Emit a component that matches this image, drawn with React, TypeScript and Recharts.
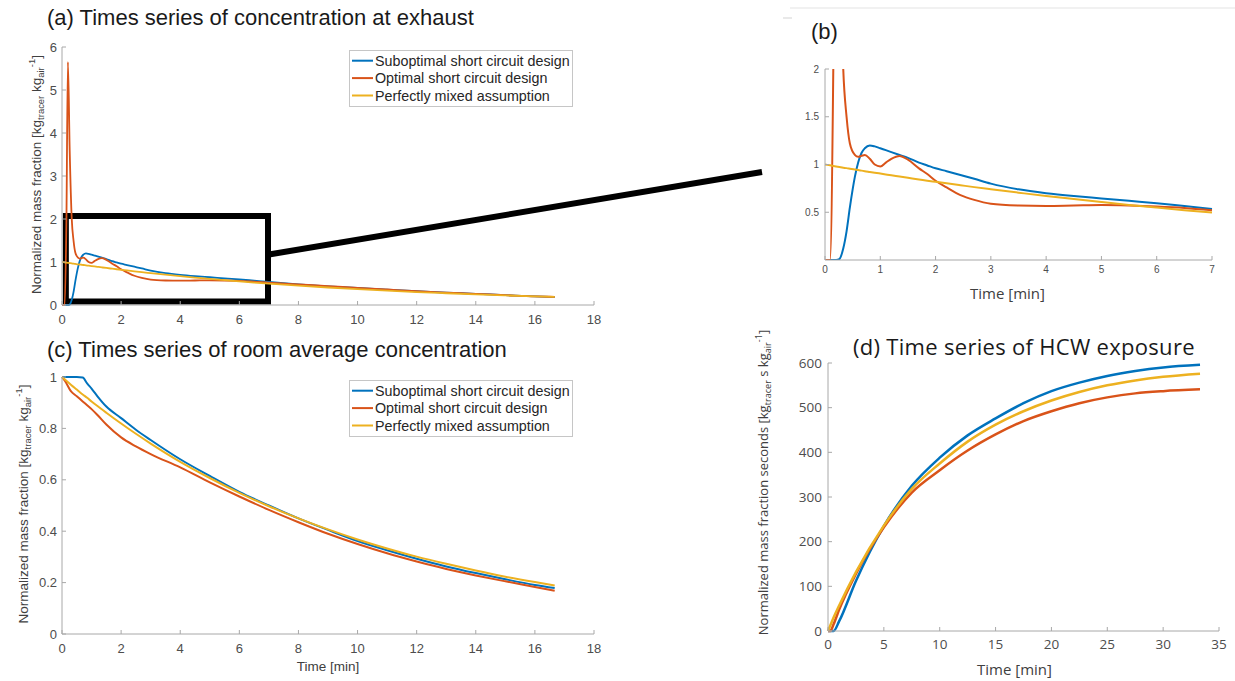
import { LineChart, Line, XAxis, YAxis, ReferenceArea } from "recharts";

const FONT = "'Liberation Sans', Arial, Helvetica, sans-serif";
const FONT_D = "'Open Sans', 'Noto Sans', sans-serif";
const AXIS = "#a8a8a8";
const TICK_TEXT = "#4d4d4d";

const seriesKeys = ["suboptimal", "optimal", "mixed"];
const seriesNames = ["Suboptimal short circuit design", "Optimal short circuit design", "Perfectly mixed assumption"];
const seriesColors = ["#0072BD", "#D95319", "#EDB120"];

// concentration at exhaust, panels (a) and (b)
const exhaustTime = [0, 0.09, 0.15, 0.2, 0.26, 0.33, 0.39, 0.45, 0.54, 0.6, 0.66, 0.72, 0.81, 0.9, 1.0, 1.1, 1.2, 1.35, 1.5, 1.7, 1.85, 2.0, 2.2, 2.45, 2.7, 3.0, 3.5, 4.0, 4.5, 5.0, 5.5, 6.0, 6.5, 7.0, 8, 9, 10, 11, 12, 13, 14, 15, 16, 16.67];
const exhaustSuboptimal = [0, 0, 0, 0, 0.01, 0.12, 0.3, 0.55, 0.87, 1.02, 1.12, 1.17, 1.2, 1.19, 1.17, 1.15, 1.13, 1.1, 1.07, 1.02, 0.99, 0.96, 0.93, 0.89, 0.85, 0.8, 0.74, 0.7, 0.67, 0.645, 0.62, 0.595, 0.565, 0.535, 0.48, 0.435, 0.395, 0.355, 0.32, 0.29, 0.26, 0.23, 0.2, 0.185];
const exhaustOptimal = [0, 0, 2.0, 5.65, 3.6, 2.0, 1.5, 1.22, 1.1, 1.08, 1.09, 1.1, 1.06, 1.0, 0.98, 1.02, 1.06, 1.09, 1.05, 0.96, 0.9, 0.83, 0.76, 0.68, 0.63, 0.59, 0.57, 0.565, 0.57, 0.575, 0.57, 0.56, 0.545, 0.52, 0.48, 0.44, 0.4, 0.36, 0.32, 0.29, 0.26, 0.23, 0.2, 0.19];
const exhaustMixed = [1, 0.991, 0.985, 0.98, 0.974, 0.967, 0.962, 0.956, 0.947, 0.942, 0.936, 0.93, 0.922, 0.914, 0.905, 0.896, 0.887, 0.874, 0.861, 0.844, 0.831, 0.819, 0.803, 0.783, 0.763, 0.741, 0.705, 0.67, 0.638, 0.607, 0.577, 0.549, 0.522, 0.497, 0.45, 0.407, 0.368, 0.333, 0.301, 0.273, 0.247, 0.223, 0.202, 0.189];

// room average concentration, panel (c)
const roomTime = [0, 0.1, 0.3, 0.5, 0.7, 0.85, 1.0, 1.2, 1.5, 2, 2.5, 3, 4, 5, 6, 7, 8, 9, 10, 11, 12, 13, 14, 15, 16, 16.67];
const roomSuboptimal = [1, 1, 1, 1, 0.998, 0.975, 0.955, 0.925, 0.885, 0.84, 0.795, 0.755, 0.68, 0.615, 0.553, 0.5, 0.45, 0.405, 0.362, 0.326, 0.293, 0.263, 0.237, 0.213, 0.191, 0.179];
const roomOptimal = [1, 0.985, 0.945, 0.925, 0.905, 0.89, 0.875, 0.852, 0.815, 0.765, 0.73, 0.7, 0.648, 0.59, 0.535, 0.483, 0.435, 0.39, 0.35, 0.314, 0.282, 0.253, 0.228, 0.205, 0.183, 0.168];
const roomMixed = [1, 0.99, 0.97, 0.951, 0.932, 0.919, 0.905, 0.887, 0.861, 0.819, 0.779, 0.741, 0.67, 0.607, 0.549, 0.497, 0.45, 0.407, 0.368, 0.333, 0.301, 0.273, 0.247, 0.223, 0.202, 0.189];

// HCW exposure, panel (d)
const hcwTime = [0, 0.2, 0.5, 1, 2.5, 5, 7.5, 10, 12.5, 15, 17.5, 20, 22.5, 25, 27.5, 30, 33.3];
const hcwSuboptimal = [0, 0, 0, 22, 112, 235, 325, 388, 438, 476, 510, 537, 556, 571, 582, 590, 596];
const hcwOptimal = [0, 0, 15, 48, 128, 232, 310, 360, 404, 440, 470, 492, 510, 523, 532, 537, 541];
const hcwMixed = [0, 12, 30, 57, 132, 236, 318, 375, 424, 462, 492, 516, 535, 550, 561, 569, 576];

const ticks18 = [0, 2, 4, 6, 8, 10, 12, 14, 16, 18];
const ticks7 = [0, 1, 2, 3, 4, 5, 6, 7];
const ticks35 = [0, 5, 10, 15, 20, 25, 30, 35];
const exhaustTicks = [0, 1, 2, 3, 4, 5, 6];
const zoomTicks = [0.5, 1, 1.5, 2];
const roomTicks = [0, 0.2, 0.4, 0.6, 0.8, 1];
const hcwTicks = [0, 100, 200, 300, 400, 500, 600];

const table = (t: number[], a: number[], b: number[], c: number[]) =>
  t.map((v, i) => ({ t: v, suboptimal: a[i], optimal: b[i], mixed: c[i] }));

const exhaustData = table(exhaustTime, exhaustSuboptimal, exhaustOptimal, exhaustMixed);
const zoomData = exhaustData.filter((d) => d.t <= 7);
const roomData = table(roomTime, roomSuboptimal, roomOptimal, roomMixed);
const hcwData = table(hcwTime, hcwSuboptimal, hcwOptimal, hcwMixed);

function MassLabel(props: any) {
  const { viewBox, dx = 19, shift = 0, size = 13.5, family = FONT, seconds = false } = props;
  const vb = viewBox || { x: 0, y: 0, width: 0, height: 0 };
  const cx = vb.x + dx;
  const cy = vb.y + vb.height / 2 + shift;
  const small = size * 0.7;
  return (
    <text x={cx} y={cy} transform={`rotate(-90 ${cx} ${cy})`} textAnchor="middle" fontSize={size} fontFamily={family} fill="#404040">
      <tspan>{seconds ? "Normalized mass fraction seconds [kg" : "Normalized mass fraction [kg"}</tspan>
      <tspan fontSize={small} dy={3}>tracer</tspan>
      <tspan dy={-3}>{seconds ? " s kg" : " kg"}</tspan>
      <tspan fontSize={small} dy={3}>air</tspan>
      <tspan fontSize={small} dy={-9}>-1</tspan>
      <tspan dy={6}>]</tspan>
    </text>
  );
}

function TimeLabel(props: any) {
  const { viewBox, dy = 37, dx = 0, size = 13.5, family = FONT } = props;
  const vb = viewBox || { x: 0, y: 0, width: 0, height: 0 };
  return (
    <text x={vb.x + vb.width / 2 + dx} y={vb.y + dy} textAnchor="middle" fontSize={size} fontFamily={family} fill="#404040">
      Time [min]
    </text>
  );
}

function seriesLines(width: number) {
  return seriesKeys.map((k, i) => (
    <Line
      key={k}
      type="monotone"
      dataKey={k}
      name={seriesNames[i]}
      stroke={seriesColors[i]}
      strokeWidth={width}
      dot={false}
      activeDot={false}
      isAnimationActive={false}
    />
  ));
}

function LegendBox({ x, y }: { x: number; y: number }) {
  return (
    <g>
      <rect x={x + 0.5} y={y + 0.5} width={223} height={56} fill="#fff" stroke="#c6c6c6" />
      {seriesNames.map((name, i) => {
        const cy = y + 10.7 + i * 17.4;
        return (
          <g key={name}>
            <line x1={x + 3} x2={x + 24} y1={cy} y2={cy} stroke={seriesColors[i]} strokeWidth={2} />
            <text x={x + 26} y={cy + 5} fontSize={14.3} fontFamily={FONT} fill="#262626">
              {name}
            </text>
          </g>
        );
      })}
    </g>
  );
}

const axisProps = {
  axisLine: { stroke: AXIS },
  tickLine: { stroke: AXIS },
  tickSize: -4,
  interval: 0 as const,
};

export default function App() {
  const tickA = { fontSize: 13, fill: TICK_TEXT, fontFamily: FONT };
  const tickB = { fontSize: 10, fill: TICK_TEXT, fontFamily: FONT };
  const tickD = { fontSize: 13.5, fill: TICK_TEXT, fontFamily: FONT_D };
  return (
    <div style={{ position: "absolute", left: 0, top: 0, width: 1235, height: 681, background: "#fff", overflow: "hidden" }}>
      {/* (a) exhaust */}
      <div style={{ position: "absolute", left: 0, top: 0 }}>
        <LineChart width={620} height={340} data={exhaustData} margin={{ top: 47, right: 26, bottom: 5, left: 22 }}>
          <XAxis type="number" dataKey="t" domain={[0, 18]} ticks={ticks18} height={30} tickMargin={14} tick={tickA} {...axisProps} />
          <YAxis type="number" domain={[0, 6]} ticks={exhaustTicks} width={40} tickMargin={9} tick={tickA} {...axisProps} label={<MassLabel dx={19} shift={-1.5} />} />
          {seriesLines(1.8)}
          <ReferenceArea x1={0.13} x2={6.97} y1={0.08} y2={2.07} fill="none" stroke="#000" strokeWidth={6} />
        </LineChart>
      </div>

      {/* (b) zoom */}
      <div style={{ position: "absolute", left: 760, top: 40 }}>
        <LineChart width={475} height={270} data={zoomData} margin={{ top: 29, right: 23, bottom: 5, left: 35 }}>
          <XAxis type="number" dataKey="t" domain={[0, 7]} ticks={ticks7} height={45} tickMargin={10} tick={tickB} {...axisProps} label={<TimeLabel dy={39} dx={-11} size={15} family={FONT_D} />} />
          <YAxis type="number" domain={[0, 2]} ticks={zoomTicks} allowDataOverflow width={30} tickMargin={10} tick={tickB} {...axisProps} />
          {seriesLines(2)}
        </LineChart>
      </div>

      {/* (c) room average */}
      <div style={{ position: "absolute", left: 0, top: 340 }}>
        <LineChart width={620} height={341} data={roomData} margin={{ top: 37, right: 26, bottom: 5, left: 22 }}>
          <XAxis type="number" dataKey="t" domain={[0, 18]} ticks={ticks18} height={42} tickMargin={14} tick={tickA} {...axisProps} label={<TimeLabel dy={37} />} />
          <YAxis type="number" domain={[0, 1]} ticks={roomTicks} width={40} tickMargin={9} tick={tickA} {...axisProps} label={<MassLabel dx={6} shift={-1.5} />} />
          {seriesLines(2)}
        </LineChart>
      </div>

      {/* (d) HCW exposure */}
      <div style={{ position: "absolute", left: 740, top: 330 }}>
        <LineChart width={495} height={351} data={hcwData} margin={{ top: 33, right: 16, bottom: 5, left: 48 }}>
          <XAxis type="number" dataKey="t" domain={[0, 35]} ticks={ticks35} height={45} tickMargin={12} tick={tickD} {...axisProps} label={<TimeLabel dy={44} dx={-9} size={15} family={FONT_D} />} />
          <YAxis type="number" domain={[0, 600]} ticks={hcwTicks} width={40} tickMargin={10} tick={tickD} {...axisProps} label={<MassLabel dx={-20} shift={-14.5} size={13} family={FONT_D} seconds />} />
          {seriesLines(2.5)}
        </LineChart>
      </div>

      <svg width={1235} height={681} style={{ position: "absolute", left: 0, top: 0, pointerEvents: "none" }}>
        <line x1={790} x2={1235} y1={8} y2={8} stroke="#ececec" strokeWidth={1.5} />
        <line x1={783} x2={792} y1={18} y2={18} stroke="#e2e2e2" strokeWidth={1.5} />
        <line x1={266} y1={255} x2={762} y2={172} stroke="#000" strokeWidth={6} />
        <text x={47} y={25} fontSize={22} fontFamily={FONT} fill="#1a1a1a">(a) Times series of concentration at exhaust</text>
        <text x={811} y={39} fontSize={22} fontFamily={FONT} fill="#1a1a1a">(b)</text>
        <text x={47} y={356.5} fontSize={22} fontFamily={FONT} fill="#1a1a1a">(c) Times series of room average concentration</text>
        <text x={853} y={355} fontSize={22} fontFamily={FONT_D} letterSpacing={0.3} fill="#1a1a1a">(d) Time series of HCW exposure</text>
        <LegendBox x={349} y={50} />
        <LegendBox x={349} y={380} />
      </svg>
    </div>
  );
}
